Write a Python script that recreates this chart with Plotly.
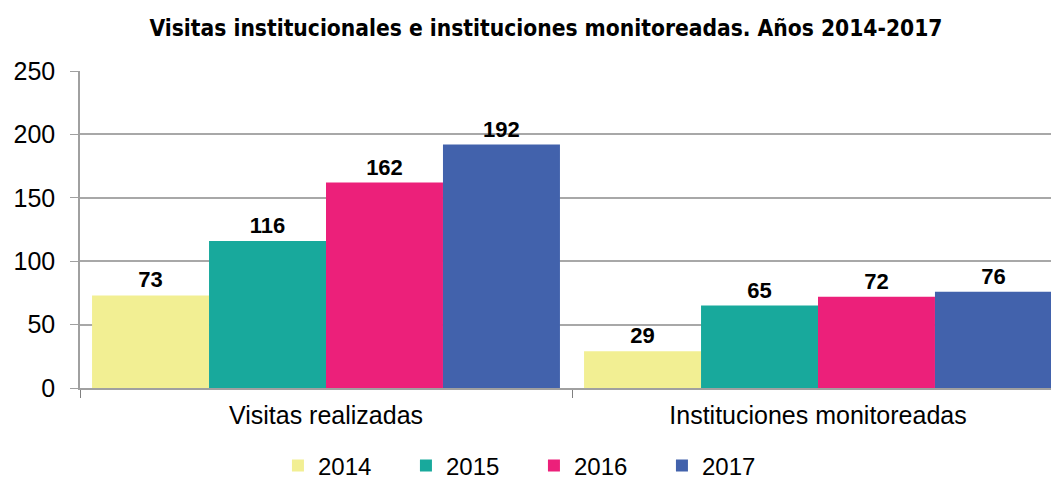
import plotly.graph_objects as go

categories = ["Visitas realizadas", "Instituciones monitoreadas"]
years = ["2014", "2015", "2016", "2017"]
values_2014 = [73, 29]
values_2015 = [116, 65]
values_2016 = [162, 72]
values_2017 = [192, 76]
colors = ["#F2EF93", "#18A99C", "#EC207A", "#4262AC"]

series = [values_2014, values_2015, values_2016, values_2017]

fig = go.Figure()
for yr, vals, col in zip(years, series, colors):
    fig.add_trace(go.Bar(
        name=yr, x=categories, y=vals, marker=dict(color=col, line=dict(width=0)),
        text=[str(v) for v in vals], textposition="outside",
        textfont=dict(family="Liberation Sans", size=22, color="#000000", weight="bold"),
        cliponaxis=False,
    ))

fig.update_layout(
    width=1051, height=478,
    margin=dict(l=80, r=0, t=71, b=90),
    paper_bgcolor="white", plot_bgcolor="white",
    barmode="group", bargap=0.049, bargroupgap=0,
    title=dict(text="<b>Visitas institucionales e instituciones monitoreadas. Años 2014-2017</b>",
               x=546 / 1051, xref="container", xanchor="center", y=1 - 28 / 478, yref="container", yanchor="middle",
               font=dict(family="DejaVu Sans Condensed, Liberation Sans", size=22.6, color="#000000")),
    font=dict(family="Liberation Sans", size=25, color="#000000"),
    legend=dict(orientation="h", x=0.4675, xanchor="center", xref="paper",
                y=12 / 478, yref="container", yanchor="middle",
                font=dict(size=24), entrywidth=83, itemwidth=30, traceorder="normal"),
    showlegend=True,
)

fig.update_xaxes(
    range=[-0.5, -0.5 + 971 / 492], showgrid=False, automargin=False,
    showline=True, linecolor="#A0A0A0", linewidth=1.5,
    ticks="outside", tickson="boundaries", ticklen=8, tickcolor="#808080",
    tickfont=dict(size=25), ticklabelstandoff=4, fixedrange=True,
)
fig.update_yaxes(
    range=[0, 250], dtick=50, showgrid=True, gridcolor="#A8A8A8", gridwidth=1.5,
    showline=True, linecolor="#A0A0A0", linewidth=1.5, automargin=False,
    ticks="outside", ticklen=8, tickcolor="#A0A0A0",
    tickfont=dict(size=25), ticklabelstandoff=10, zeroline=False,
)

fig.write_html("out.html", config={"displayModeBar": False},
               post_script="document.body.style.margin='0';document.body.style.overflow='hidden';")
